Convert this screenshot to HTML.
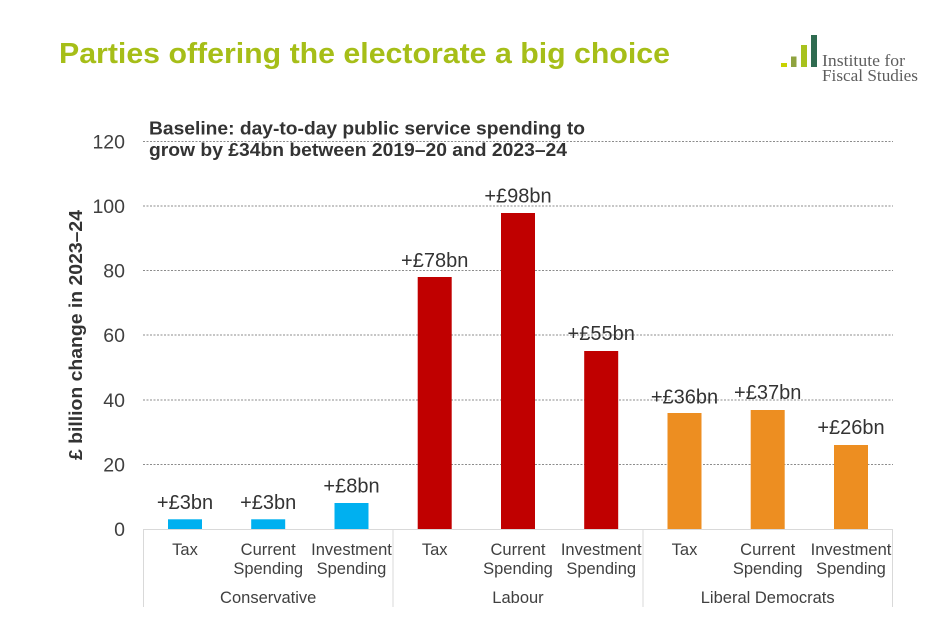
<!DOCTYPE html>
<html>
<head>
<meta charset="utf-8">
<style>
html,body{margin:0;padding:0;background:#fff;}
svg{display:block;}
</style>
</head>
<body>
<svg width="940" height="625" viewBox="0 0 940 625" xmlns="http://www.w3.org/2000/svg" font-family="'Liberation Sans', Arial, sans-serif">
  <rect width="940" height="625" fill="#fff"/>
  <!-- Title -->
  <text x="59" y="63" font-size="28.5" font-weight="bold" fill="#A6BE18" textLength="611" lengthAdjust="spacingAndGlyphs">Parties offering the electorate a big choice</text>

  <!-- Logo -->
  <rect x="781" y="63" width="6" height="4" fill="#C8D200"/>
  <rect x="791" y="56.5" width="5.5" height="10.5" fill="#8FA33F"/>
  <rect x="801" y="45" width="6" height="22" fill="#A8C21E"/>
  <rect x="811" y="35" width="6" height="32" fill="#2F6B50"/>
  <text x="822" y="66" font-family="'Liberation Serif', serif" font-size="17" fill="#5E5E5E" textLength="83" lengthAdjust="spacingAndGlyphs">Institute for</text>
  <text x="822" y="81" font-family="'Liberation Serif', serif" font-size="17" fill="#5E5E5E" textLength="96" lengthAdjust="spacingAndGlyphs">Fiscal Studies</text>

  <!-- Gridlines -->
  <g stroke="#8C8C8C" stroke-width="1" stroke-dasharray="2,1.5">
    <line x1="143" y1="141.5" x2="893" y2="141.5"/>
    <line x1="143" y1="206" x2="893" y2="206"/>
    <line x1="143" y1="270.5" x2="893" y2="270.5"/>
    <line x1="143" y1="335" x2="893" y2="335"/>
    <line x1="143" y1="400" x2="893" y2="400"/>
    <line x1="143" y1="464.5" x2="893" y2="464.5"/>
  </g>

  <!-- Baseline annotation -->
  <text x="149" y="134.5" font-size="18" font-weight="bold" fill="#333333" textLength="436" lengthAdjust="spacingAndGlyphs">Baseline: day-to-day public service spending to</text>
  <text x="149" y="156" font-size="18" font-weight="bold" fill="#333333" textLength="418" lengthAdjust="spacingAndGlyphs">grow by £34bn between 2019–20 and 2023–24</text>

  <!-- Y tick labels -->
  <g font-size="19.5" fill="#404040" text-anchor="end">
    <text x="125" y="148.5">120</text>
    <text x="125" y="213">100</text>
    <text x="125" y="277.5">80</text>
    <text x="125" y="342">60</text>
    <text x="125" y="407">40</text>
    <text x="125" y="471.5">20</text>
    <text x="125" y="536">0</text>
  </g>

  <!-- Y axis title -->
  <text transform="translate(82,335) rotate(-90)" text-anchor="middle" font-size="18" font-weight="bold" fill="#333333" textLength="250" lengthAdjust="spacingAndGlyphs">£ billion change in 2023–24</text>

  <!-- Bars -->
  <g fill="#00B0F0">
    <rect x="168" y="519.3" width="34" height="9.7"/>
    <rect x="251.2" y="519.3" width="34" height="9.7"/>
    <rect x="334.5" y="503" width="34" height="26"/>
  </g>
  <g fill="#C00000">
    <rect x="417.7" y="277" width="34" height="252"/>
    <rect x="501" y="213" width="34" height="316"/>
    <rect x="584.2" y="351" width="34" height="178"/>
  </g>
  <g fill="#ED8E21">
    <rect x="667.5" y="413" width="34" height="116"/>
    <rect x="750.7" y="410" width="34" height="119"/>
    <rect x="834" y="445" width="34" height="84"/>
  </g>

  <!-- Data labels -->
  <g font-size="20" fill="#333333" text-anchor="middle">
    <text x="185" y="509">+£3bn</text>
    <text x="268.2" y="509">+£3bn</text>
    <text x="351.5" y="492.5">+£8bn</text>
    <text x="434.7" y="267">+£78bn</text>
    <text x="518" y="202.5">+£98bn</text>
    <text x="601.2" y="340">+£55bn</text>
    <text x="684.5" y="403.5">+£36bn</text>
    <text x="767.7" y="399">+£37bn</text>
    <text x="851" y="434">+£26bn</text>
  </g>

  <!-- Axis lines -->
  <g stroke="#D9D9D9" stroke-width="1">
    <line x1="143" y1="529.5" x2="893" y2="529.5"/>
    <line x1="143.5" y1="529" x2="143.5" y2="607"/>
    <line x1="393" y1="529" x2="393" y2="607"/>
    <line x1="643" y1="529" x2="643" y2="607"/>
    <line x1="892.5" y1="529" x2="892.5" y2="607"/>
  </g>

  <!-- Category labels -->
  <g font-size="16.5" fill="#404040" text-anchor="middle">
    <text x="185" y="555">Tax</text>
    <text x="268.2" y="555">Current</text>
    <text x="268.2" y="574">Spending</text>
    <text x="351.5" y="555">Investment</text>
    <text x="351.5" y="574">Spending</text>

    <text x="434.7" y="555">Tax</text>
    <text x="518" y="555">Current</text>
    <text x="518" y="574">Spending</text>
    <text x="601.2" y="555">Investment</text>
    <text x="601.2" y="574">Spending</text>

    <text x="684.5" y="555">Tax</text>
    <text x="767.7" y="555">Current</text>
    <text x="767.7" y="574">Spending</text>
    <text x="851" y="555">Investment</text>
    <text x="851" y="574">Spending</text>

    <text x="268.2" y="603">Conservative</text>
    <text x="518" y="603">Labour</text>
    <text x="767.7" y="603">Liberal Democrats</text>
  </g>
</svg>
</body>
</html>
